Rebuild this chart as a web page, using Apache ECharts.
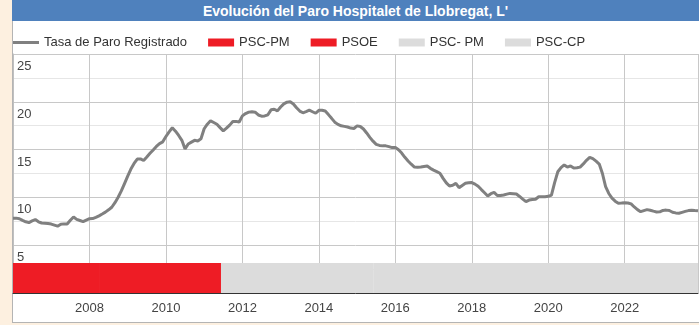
<!DOCTYPE html>
<html>
<head>
<meta charset="utf-8">
<script src="https://cdn.jsdelivr.net/npm/echarts@6/dist/echarts.min.js"></script>
<style>
html,body{margin:0;padding:0;background:#fdf0e0;width:699px;height:325px;overflow:hidden;}
#frame{position:absolute;left:12px;top:0;width:687px;height:323px;background:#fff;border-left:1px solid #b4b4b4;border-bottom:1px solid #b4b4b4;box-sizing:border-box;}
#titlebar{position:absolute;left:12px;top:0;width:687px;height:21px;background:#4f81bd;color:#fff;font:bold 14px "Liberation Sans",Arial,sans-serif;text-align:center;line-height:22px;}
#chart{position:absolute;left:0;top:0;width:699px;height:325px;}
</style>
</head>
<body>
<div id="frame"></div>
<div id="titlebar">Evolución del Paro Hospitalet de Llobregat, L'</div>
<div id="chart"></div>
<script>
// Monthly registered unemployment rate, Jan 2006 .. Dec 2023
const startYear = 2006;
const seriesName = 'Tasa de Paro Registrado';
const rates = [
7.83,7.83,7.77,7.59,7.45,7.37,7.54,7.68,7.45,7.32,7.30,7.26,
7.21,7.10,6.99,7.19,7.23,7.22,7.61,7.95,7.70,7.58,7.46,7.63,
7.77,7.79,7.92,8.07,8.26,8.46,8.70,8.97,9.45,10.02,10.68,11.45,
12.22,12.96,13.55,14.01,14.03,13.86,14.23,14.61,14.96,15.33,15.63,15.81,
16.37,16.86,17.29,16.93,16.48,15.97,15.07,15.59,15.78,15.97,15.91,16.14,
17.18,17.66,18.01,17.83,17.65,17.30,16.96,17.24,17.56,17.94,17.95,17.89,
18.53,18.77,18.92,18.96,18.91,18.62,18.50,18.52,18.64,19.16,19.22,19.05,
19.45,19.78,19.96,20.00,19.77,19.37,19.03,18.85,18.97,19.12,18.96,18.80,
19.11,19.11,19.04,18.66,18.27,17.87,17.64,17.49,17.43,17.36,17.25,17.21,
17.48,17.42,17.16,16.74,16.28,15.88,15.55,15.44,15.39,15.39,15.31,15.21,
15.23,14.98,14.64,14.19,13.81,13.47,13.17,13.15,13.19,13.24,13.28,13.04,
12.86,12.70,12.53,11.99,11.52,11.19,11.27,11.47,11.02,11.25,11.47,11.53,
11.55,11.39,11.16,10.82,10.49,10.15,10.39,10.52,10.20,10.19,10.25,10.34,
10.42,10.39,10.35,10.10,9.82,9.55,9.72,9.79,9.81,10.07,10.07,10.07,
10.11,10.25,11.55,12.68,13.12,13.40,13.17,13.29,13.08,13.10,13.17,13.50,
13.88,14.19,14.05,13.79,13.49,12.50,11.13,10.41,9.92,9.61,9.39,9.41,
9.44,9.42,9.32,9.00,8.72,8.51,8.62,8.72,8.66,8.56,8.48,8.49,
8.64,8.67,8.63,8.45,8.38,8.34,8.44,8.54,8.62,8.66,8.62,8.60
];
// Governing party periods (decimal years)
const bandNames  = ['PSC-PM', 'PSOE', 'PSC- PM', 'PSC-CP'];
const bandStart  = [2006.0, 2008.25, 2011.44, 2015.42];
const bandEnd    = [2008.25, 2011.44, 2015.42, 2023.9167];
const bandColors = ['#ee1c25', '#ee1c25', '#dcdcdc', '#dcdcdc'];
const yTicks = [5, 10, 15, 20, 25];

const xMin = startYear;
const xMax = startYear + (rates.length - 1) / 12;
const lineData = rates.map((v, i) => [startYear + i / 12, v]);
const FONT = '"Liberation Sans", Arial, sans-serif';

const series = [{
  name: seriesName, type: 'line', data: lineData, showSymbol: false, symbol: 'none',
  xAxisIndex: 0, yAxisIndex: 0, z: 5,
  lineStyle: { color: '#808080', width: 3 }, itemStyle: { color: '#808080' }
}];
bandNames.forEach((n, i) => {
  series.push({
    name: n, type: 'line', xAxisIndex: 1, yAxisIndex: 1, symbol: 'none', showSymbol: false,
    data: [[bandStart[i], 1], [bandEnd[i], 1]],
    lineStyle: { width: 0, color: bandColors[i] }, itemStyle: { color: bandColors[i] },
    areaStyle: { color: bandColors[i], opacity: 1 }, z: 3
  });
});

const chart = echarts.init(document.getElementById('chart'), null, { renderer: 'canvas' });
chart.setOption({
  animation: false,
  backgroundColor: 'transparent',
  textStyle: { fontFamily: FONT },
  legend: {
    left: 8, top: 31, itemWidth: 26, itemHeight: 8, itemGap: 21,
    textStyle: { fontSize: 13, color: '#333', fontFamily: FONT },
    data: [{ name: seriesName, icon: 'path://M0,0L0,0M0,2.5L26,2.5L26,5.5L0,5.5ZM0,8L0,8', itemStyle: { color: '#808080' } }]
      .concat(bandNames.map(n => ({ name: n, icon: 'rect' })))
  },
  grid: [
    { left: 13, right: 1, top: 54, bottom: 32, containLabel: false },
    { left: 13, right: 1, top: 263, bottom: 32, containLabel: false }
  ],
  xAxis: [{
    type: 'value', gridIndex: 0, min: xMin, max: xMax, interval: 2,
    axisLine: { show: true, lineStyle: { color: '#333', width: 1 } },
    axisTick: { show: false },
    axisLabel: { showMinLabel: false, showMaxLabel: false, margin: 9, fontSize: 13, color: '#444', fontFamily: FONT,
      formatter: v => Number.isInteger(Math.round(v * 1000) / 1000) ? String(Math.round(v)) : '' },
    splitLine: { show: true, lineStyle: { color: '#c8c8c8', width: 1 } }
  }, {
    type: 'value', gridIndex: 1, min: xMin, max: xMax, show: false
  }],
  yAxis: [{
    type: 'value', gridIndex: 0, min: 0, max: 25, interval: 5,
    axisLine: { show: true, lineStyle: { color: '#c0c0c0' } },
    axisTick: { show: false },
    axisLabel: { inside: true, showMinLabel: false, margin: 4, fontSize: 13, color: '#444', fontFamily: FONT,
      verticalAlign: 'top', padding: [6, 0, 0, 0],
      formatter: v => yTicks.includes(v) ? String(v) : '' },
    splitLine: { show: true, lineStyle: { color: '#c8c8c8', width: 1 } },
    minorTick: { show: false, splitNumber: 2 },
    minorSplitLine: { show: true, lineStyle: { color: '#e6e6e6', width: 1 } }
  }, {
    type: 'value', gridIndex: 1, min: 0, max: 1, show: false
  }],
  series: series
});
</script>
</body>
</html>
